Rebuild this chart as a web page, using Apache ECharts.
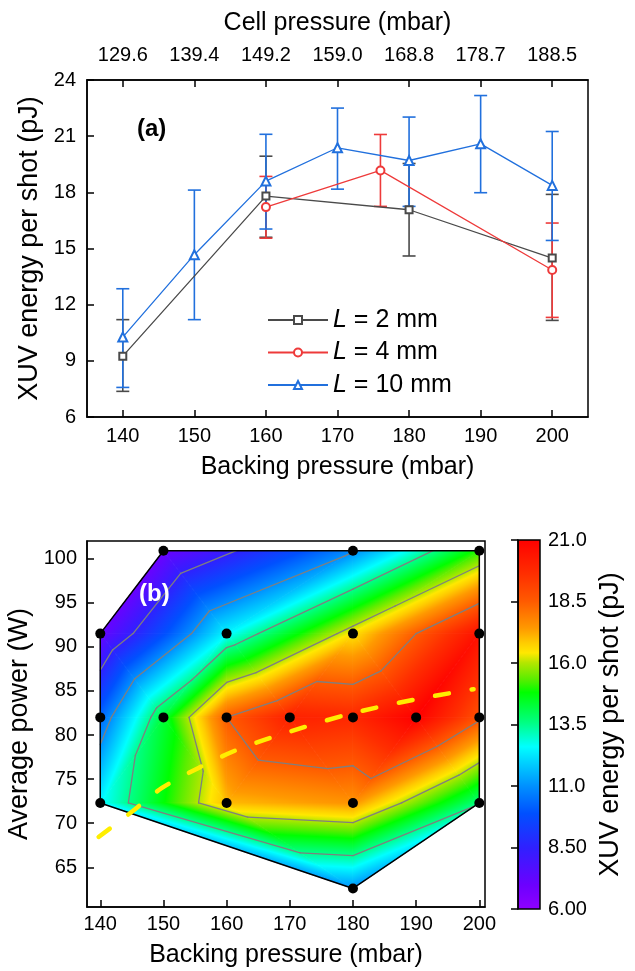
<!DOCTYPE html>
<html><head><meta charset="utf-8">
<script src="https://cdn.jsdelivr.net/npm/echarts@6/dist/echarts.min.js"></script>
<style>html,body{margin:0;padding:0;background:#fff}#c{width:635px;height:971px}</style>
</head><body><div id="c"></div>
<script>
// ---------- panel (a) ----------
const backingTicks = [140,150,160,170,180,190,200];
const cellTickLabels = ['129.6','139.4','149.2','159.0','168.8','178.7','188.5'];

const l2X  = [140,160,180,200];
const l2Y  = [9.25,17.8,17.07,14.49];
const l2Lo = [7.37,15.6,14.6,11.16];
const l2Hi = [11.2,19.93,19.54,17.89];

const l4X  = [160,176,200];
const l4Y  = [17.21,19.17,13.85];
const l4Lo = [15.55,17.25,11.32];
const l4Hi = [18.85,21.09,16.36];

const l10X  = [140,150,160,170,180,190,200];
const l10Y  = [10.27,14.67,18.6,20.38,19.7,20.59,18.37];
const l10Lo = [7.58,11.2,16.04,18.17,17.25,17.98,15.43];
const l10Hi = [12.85,18.12,21.1,22.5,22.02,23.17,21.25];

const seriesNames = ['L = 2 mm','L = 4 mm','L = 10 mm'];

// ---------- panel (b) ----------
const powerTicks = [65,70,75,80,85,90,95,100];
const mapX = [150,180,200, 140,160,180,200, 140,150,160,170,180,190,200, 140,160,180,200, 180];
const mapY = [100.9,100.9,100.9, 91.5,91.5,91.5,91.5, 82,82,82,82,82,82,82, 72.3,72.3,72.3,72.3, 62.6];
const mapE = [7.0,10.9,15.0, 7.1,12.5,16.5,20.5, 10.3,14.3,18.5,20.0,19.8,21.0,18.7, 12.5,17.0,17.5,13.6, 11.0];
const triangles = [
  [3,0,4],[0,1,4],[1,4,5],[1,5,2],[5,6,2],
  [3,7,8],[3,8,4],[4,8,9],[4,9,10],[4,10,5],[5,10,11],[5,11,12],[5,12,6],[6,12,13],
  [7,14,8],[8,14,15],[8,15,9],[9,15,10],[10,15,16],[10,16,11],[11,16,12],[12,16,17],[12,17,13],
  [14,18,15],[15,18,16],[16,18,17]
];
const hullOrder = [14,7,3,0,1,2,6,13,17,18,14];
const contourLevels = [8.5,11,13.5,16,18.5];
const dashX = [139.74,144.75,149.76,155.56,161.1,166.9,179.0,189.6,199.1];
const dashY = [68.44,71.16,74.0,76.27,78.16,79.67,82.3,84.0,85.2];
const cbTicks = [6,8.5,11,13.5,16,18.5,21];
const cbTickLabels = ['6.00','8.50','11.0','13.5','16.0','18.5','21.0'];

// colormap (style)
const cmapVals = [6,7,8.5,9.9,11,12,12.6,13.6,14.8,15.3,16,16.4,16.8,17.4,18.5,19.6,21];
const cmapCols = ['#9000ff','#6c00ff','#3020ff','#0050ff','#0090ff','#00d4ff','#00ffff','#00ff80','#00ff00','#55ee00','#b4e600','#ffe800','#ffcc00','#ff9900','#ff5a00','#ff2e00','#ff0000'];
function hex(c){return [parseInt(c.substr(1,2),16),parseInt(c.substr(3,2),16),parseInt(c.substr(5,2),16)];}
const cmapRGB = cmapCols.map(hex);
function cmap(v){
  if (v <= cmapVals[0]) return 'rgb('+cmapRGB[0].join(',')+')';
  const n = cmapVals.length;
  if (v >= cmapVals[n-1]) return 'rgb('+cmapRGB[n-1].join(',')+')';
  for (let i=0;i<n-1;i++){
    if (v>=cmapVals[i] && v<=cmapVals[i+1]){
      const t=(v-cmapVals[i])/(cmapVals[i+1]-cmapVals[i]);
      const a=cmapRGB[i], b=cmapRGB[i+1];
      return 'rgb('+[0,1,2].map(k=>Math.round(a[k]+(b[k]-a[k])*t)).join(',')+')';
    }
  }
}
function stopsBetween(vmin,vmax){
  const vals=[vmin];
  cmapVals.forEach(v=>{if(v>vmin&&v<vmax)vals.push(v);});
  vals.push(vmax);
  return vals.map(v=>({offset:(v-vmin)/(vmax-vmin), color:cmap(v)}));
}
function triFill(P,V){
  const d1x=P[1][0]-P[0][0], d1y=P[1][1]-P[0][1];
  const d2x=P[2][0]-P[0][0], d2y=P[2][1]-P[0][1];
  const dv1=V[1]-V[0], dv2=V[2]-V[0];
  const det=d1x*d2y-d2x*d1y;
  const a=(dv1*d2y-dv2*d1y)/det, b=(d1x*dv2-d2x*dv1)/det;
  const g2=a*a+b*b;
  const vmin=Math.min(...V), vmax=Math.max(...V);
  if (g2<1e-12 || vmax-vmin<1e-9) return cmap(V[0]);
  const im=V.indexOf(vmin);
  const sx=P[im][0], sy=P[im][1];
  const k=(vmax-vmin)/g2;
  return new echarts.graphic.LinearGradient(sx,sy,sx+a*k,sy+b*k,stopsBetween(vmin,vmax),true);
}

const FONT = 'Liberation Sans, Arial, sans-serif';
const C2='#4a4a4a', C4='#ee3a3a', C10='#2170dd';

function errSeries(xs,lo,hi,color){
  return {type:'custom', xAxisIndex:0, yAxisIndex:0, z:3, silent:true,
    data: xs.map((x,i)=>[x,lo[i],hi[i]]),
    encode:{x:0,y:[1,2]},
    renderItem:(params,api)=>{
      const x=api.value(0);
      const p1=api.coord([x,api.value(1)]), p2=api.coord([x,api.value(2)]);
      const w=6.5, st={stroke:color,lineWidth:1.6};
      return {type:'group',children:[
        {type:'line',shape:{x1:p1[0],y1:p1[1],x2:p2[0],y2:p2[1]},style:st},
        {type:'line',shape:{x1:p1[0]-w,y1:p1[1],x2:p1[0]+w,y2:p1[1]},style:st},
        {type:'line',shape:{x1:p2[0]-w,y1:p2[1],x2:p2[0]+w,y2:p2[1]},style:st}
      ]};
    }};
}
function lineSeries(name,xs,ys,color,symbol,size){
  return {type:'line', name, xAxisIndex:0, yAxisIndex:0, z:4,
    data: xs.map((x,i)=>[x,ys[i]]), symbol, symbolSize:size, showSymbol:true,
    lineStyle:{color,width:1.3}, itemStyle:{color,borderWidth:1.2}, emphasis:{disabled:true}};
}

const axisText = {color:'#000', fontSize:20, fontFamily:FONT};
const nameText = {color:'#000', fontSize:25, fontFamily:FONT};
const vNameText = {color:'#000', fontSize:27, fontFamily:FONT};
const blackLine = {show:true, lineStyle:{color:'#000', width:1.5}};

const chart = echarts.init(document.getElementById('c'), null, {renderer:'canvas'});
chart.setOption({
  animation:false,
  textStyle:{fontFamily:FONT},
  grid:[
    {left:87, top:80, width:501, height:337, show:true, borderColor:'#000', borderWidth:1.5, backgroundColor:'transparent', containLabel:false, outerBoundsMode:'none'},
    {left:87, top:541, width:398, height:366, show:true, borderColor:'#000', borderWidth:1.5, backgroundColor:'transparent', containLabel:false, outerBoundsMode:'none'},
    {left:518, top:540, width:22, height:369, show:false, containLabel:false, outerBoundsMode:'none'}
  ],
  xAxis:[
    {type:'value', gridIndex:0, min:135, max:205, position:'bottom',
      name:'Backing pressure (mbar)', nameLocation:'middle', nameGap:38, nameTextStyle:nameText,
      axisLine:blackLine, splitLine:{show:false},
      axisTick:{inside:true, length:7, lineStyle:{color:'#000',width:1.5}, customValues:backingTicks},
      axisLabel:{customValues:backingTicks, margin:9, ...axisText}},
    {type:'value', gridIndex:0, min:135, max:205, position:'top',
      name:'Cell pressure (mbar)', nameLocation:'middle', nameGap:44, nameTextStyle:nameText,
      axisLine:blackLine, splitLine:{show:false},
      axisTick:{inside:true, length:7, lineStyle:{color:'#000',width:1.5}, customValues:backingTicks},
      axisLabel:{customValues:backingTicks, margin:15, ...axisText,
        formatter:(v)=>cellTickLabels[backingTicks.indexOf(v)]}},
    {type:'value', gridIndex:1, min:137.9, max:200.9, position:'bottom',
      name:'Backing pressure (mbar)', nameLocation:'middle', nameGap:36, nameTextStyle:nameText,
      axisLine:blackLine, splitLine:{show:false},
      axisTick:{inside:true, length:7, lineStyle:{color:'#000',width:1.5}, customValues:backingTicks},
      axisLabel:{customValues:backingTicks, margin:7, ...axisText}},
    {type:'value', gridIndex:2, min:0, max:1, show:false}
  ],
  yAxis:[
    {type:'value', gridIndex:0, min:6, max:24, interval:3, position:'left',
      name:'XUV energy per shot (pJ)', nameLocation:'middle', nameGap:43, nameTextStyle:vNameText,
      axisLine:blackLine, splitLine:{show:false},
      axisTick:{inside:true, length:7, lineStyle:{color:'#000',width:1.5}},
      axisLabel:{margin:11, ...axisText}},
    {type:'value', gridIndex:1, min:60.5, max:102, position:'left',
      name:'Average power (W)', nameLocation:'middle', nameGap:49, nameTextStyle:vNameText,
      axisLine:blackLine, splitLine:{show:false},
      axisTick:{inside:true, length:7, lineStyle:{color:'#000',width:1.5}, customValues:powerTicks},
      axisLabel:{customValues:powerTicks, margin:10, ...axisText}},
    {type:'value', gridIndex:2, min:6, max:21, position:'right', z:10,
      name:'XUV energy per shot (pJ)', nameLocation:'middle', nameGap:57, nameTextStyle:vNameText,
      axisLine:blackLine, splitLine:{show:false},
      axisTick:{inside:true, length:7, lineStyle:{color:'#000',width:1.5}, customValues:cbTicks},
      axisLabel:{customValues:cbTicks, margin:8, color:'#000', fontSize:20, fontFamily:FONT,
        formatter:(v)=>cbTickLabels[cbTicks.indexOf(v)]}}
  ],
  legend:{
    left:262, top:302.5, orient:'vertical', itemWidth:60, itemHeight:10, itemGap:7.5,
    selectedMode:false, data:seriesNames,
    formatter:(n)=>'{i|L}'+n.slice(1),
    textStyle:{color:'#000', fontSize:25, lineHeight:25, fontFamily:FONT,
      rich:{i:{fontStyle:'italic', fontSize:25, lineHeight:25, fontFamily:FONT, color:'#000'}}}
  },
  graphic:[
    {type:'text', left:137, top:117, style:{text:'(a)', fontSize:24, fontWeight:'bold', fill:'#000', fontFamily:FONT}, z:20},
    {type:'text', left:139, top:582, style:{text:'(b)', fontSize:24, fontWeight:'bold', fill:'#fff', fontFamily:FONT}, z:20}
  ],
  series:[
    errSeries(l2X,l2Lo,l2Hi,C2),
    errSeries(l4X,l4Lo,l4Hi,C4),
    errSeries(l10X,l10Lo,l10Hi,C10),
    lineSeries(seriesNames[0],l2X,l2Y,C2,'emptyRect',7),
    lineSeries(seriesNames[1],l4X,l4Y,C4,'emptyCircle',8),
    lineSeries(seriesNames[2],l10X,l10Y,C10,'emptyTriangle',9),
    // filled map
    {type:'custom', xAxisIndex:2, yAxisIndex:1, z:2, silent:true, clip:false,
      data: triangles.map(t=>[mapX[t[0]],mapY[t[0]],t[0],t[1],t[2]]),
      encode:{x:0,y:1},
      renderItem:(params,api)=>{
        const ids=[api.value(2),api.value(3),api.value(4)];
        const P=ids.map(i=>api.coord([mapX[i],mapY[i]]));
        const V=ids.map(i=>mapE[i]);
        const f=triFill(P,V);
        return {type:'polygon', shape:{points:P}, style:{fill:f, stroke:f, lineWidth:0.8}};
      }},
    // contour lines
    {type:'custom', xAxisIndex:2, yAxisIndex:1, z:3, silent:true, clip:false,
      data: triangles.map(t=>[mapX[t[0]],mapY[t[0]],t[0],t[1],t[2]]),
      encode:{x:0,y:1},
      renderItem:(params,api)=>{
        const ids=[api.value(2),api.value(3),api.value(4)];
        const children=[];
        contourLevels.forEach(lev=>{
          const pts=[];
          for(let e=0;e<3;e++){
            const a=ids[e], b=ids[(e+1)%3];
            const va=mapE[a], vb=mapE[b];
            if((va>=lev)!==(vb>=lev)){
              const t=(lev-va)/(vb-va);
              pts.push(api.coord([mapX[a]+(mapX[b]-mapX[a])*t, mapY[a]+(mapY[b]-mapY[a])*t]));
            }
          }
          if(pts.length===2){
            children.push({type:'line', shape:{x1:pts[0][0],y1:pts[0][1],x2:pts[1][0],y2:pts[1][1]},
              style:{stroke:'#7f7f7f', lineWidth:1.3, lineCap:'round'}});
          }
        });
        return {type:'group', children};
      }},
    // hull outline
    {type:'line', xAxisIndex:2, yAxisIndex:1, z:4, silent:true, symbol:'none',
      data: hullOrder.map(i=>[mapX[i],mapY[i]]),
      lineStyle:{color:'#000', width:1.5}},
    // measurement points
    {type:'scatter', xAxisIndex:2, yAxisIndex:1, z:5, silent:true, symbolSize:10,
      data: mapX.map((x,i)=>[x,mapY[i]]), itemStyle:{color:'#000', opacity:1}},
    // dashed line
    {type:'line', xAxisIndex:2, yAxisIndex:1, z:6, silent:true, symbol:'none', smooth:0.3,
      data: dashX.map((x,i)=>[x,dashY[i]]),
      lineStyle:{color:'#ffee00', width:4.5, type:[14,23], cap:'round'}},
    // colorbar
    {type:'custom', xAxisIndex:3, yAxisIndex:2, z:2, silent:true, clip:false,
      data:[[0,6,1,21]], encode:{x:[0,2],y:[1,3]},
      renderItem:(params,api)=>{
        const p1=api.coord([0,21]), p2=api.coord([1,6]);
        const stops=cmapVals.map((v,i)=>({offset:(v-6)/15, color:cmapCols[i]}));
        return {type:'rect', shape:{x:p1[0],y:p1[1],width:p2[0]-p1[0],height:p2[1]-p1[1]},
          style:{fill:new echarts.graphic.LinearGradient(0,1,0,0,stops), stroke:'#000', lineWidth:1.5}};
      }}
  ]
});
</script></body></html>
